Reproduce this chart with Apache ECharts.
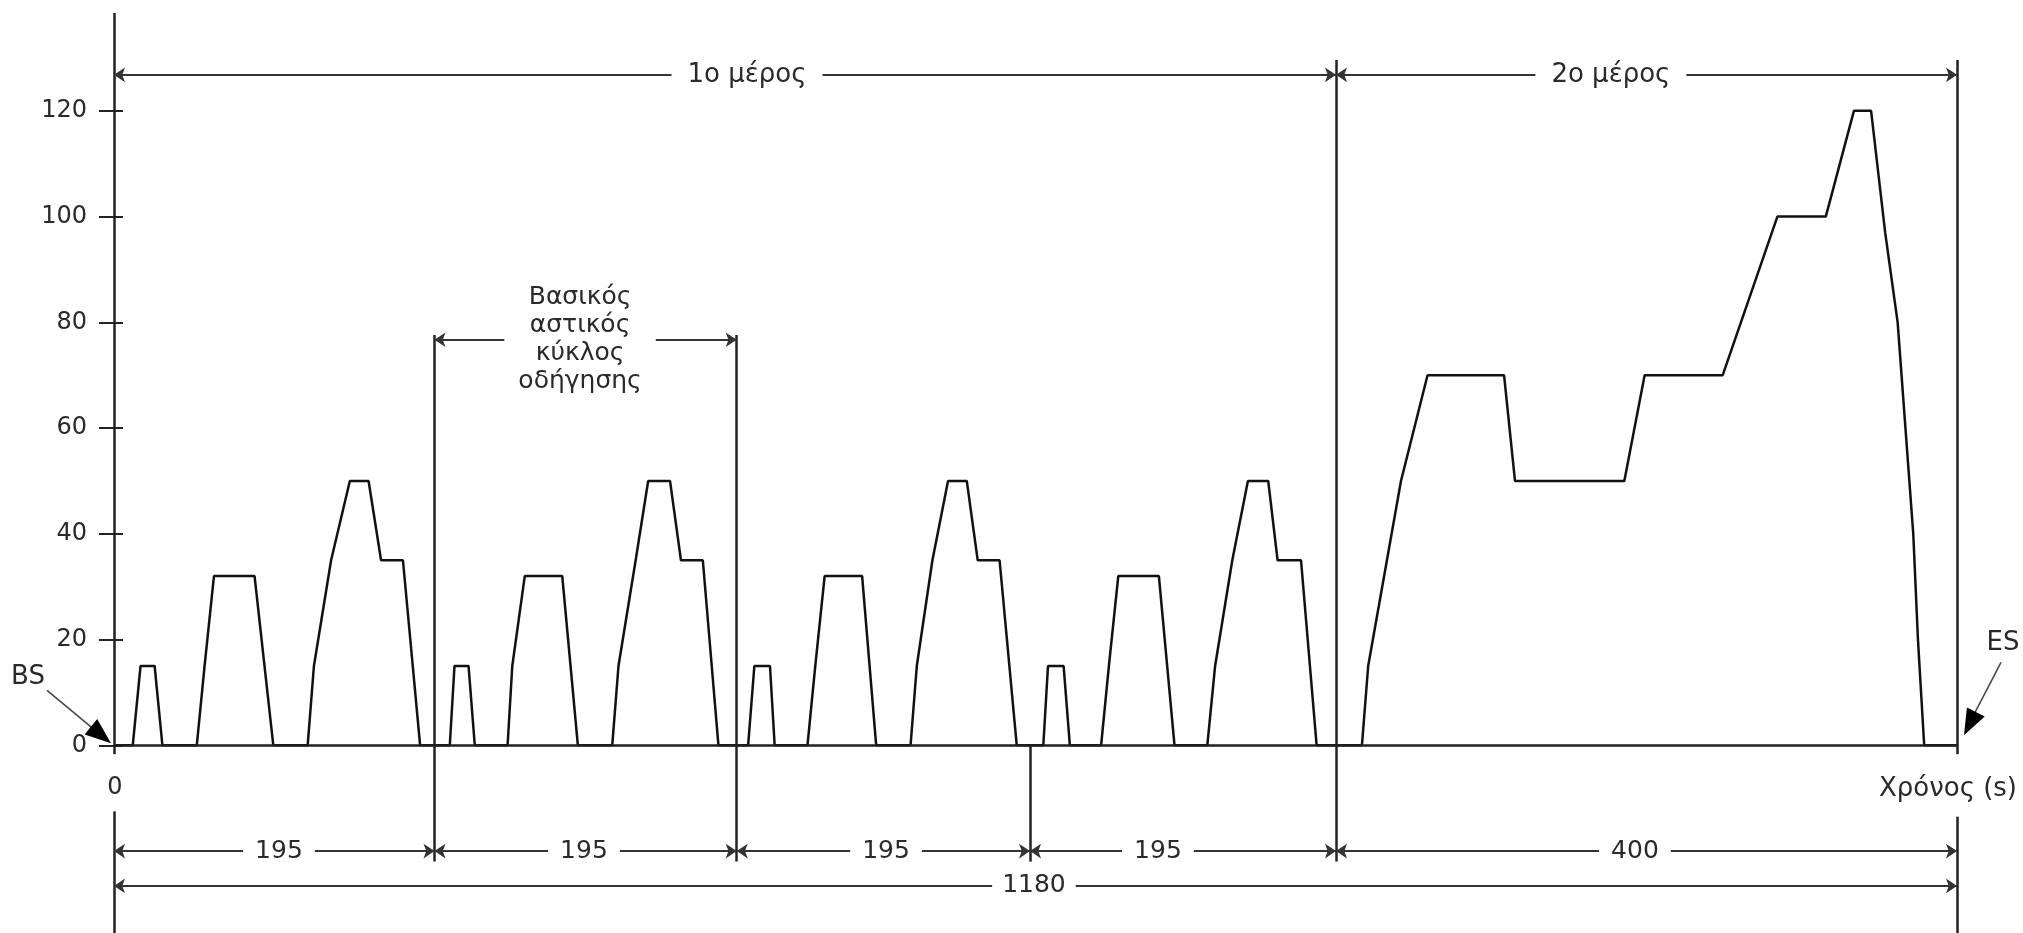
<!DOCTYPE html>
<html>
<head>
<meta charset="utf-8">
<title>Κύκλος οδήγησης</title>
<script src="https://cdn.jsdelivr.net/npm/echarts@6/dist/echarts.min.js"></script>
<style>
html, body { margin: 0; padding: 0; background: #fff; }
#grafico { width: 2023px; height: 933px; }
</style>
</head>
<body>
<div id="grafico"></div>
<script>
// speed (km/h) against time (s)
var times = [0,
    12, 17, 26, 31, 53, 58, 64, 90, 102, 124, 128, 139, 151, 163, 171, 185, 196,
    215, 218, 227, 231, 252, 255, 263, 287, 297, 319, 323, 334, 342, 356, 363, 377, 387,
    406, 410, 420, 423, 444, 449, 455, 479, 488, 510, 514, 524, 534, 546, 553, 567, 578,
    595, 598, 608, 612, 632, 637, 643, 669, 679, 700, 705, 716, 726, 739, 745, 760, 770,
    799, 803, 815, 824, 841, 890, 897, 967, 980, 1030, 1065, 1096, 1114, 1125,
    1134, 1142, 1147, 1152, 1155, 1159, 1180];
var speeds = [0,
    0, 15, 15, 0, 0, 15, 32, 32, 0, 0, 15, 35, 50, 50, 35, 35, 0,
    0, 15, 15, 0, 0, 15, 32, 32, 0, 0, 15, 35, 50, 50, 35, 35, 0,
    0, 15, 15, 0, 0, 15, 32, 32, 0, 0, 15, 35, 50, 50, 35, 35, 0,
    0, 15, 15, 0, 0, 15, 32, 32, 0, 0, 15, 35, 50, 50, 35, 35, 0,
    0, 15, 35, 50, 70, 70, 50, 50, 70, 70, 100, 100, 120, 120,
    97, 80, 60, 40, 20, 0, 0];
var yTicks = [0, 20, 40, 60, 80, 100, 120];
var boundaries = [0, 205.2, 398.7, 586.5, 782.4, 1180];
var segmentLabels = ['195', '195', '195', '195', '400'];
var segmentLabelAt = [105.6, 300.9, 494.3, 668.4, 973.8];
var partLabels = ['1ο μέρος', '2ο μέρος'];
var partLabelAt = [405.3, 958.4];
var cycleLabel = 'Βασικός\nαστικός\nκύκλος\nοδήγησης';
var cycleLabelAt = 298.4;
var totalLabel = '1180';
var totalLabelAt = 589;
var xName = 'Χρόνος (s)';

var font = 'DejaVu Sans';
var ink = '#222';
var textInk = '#2a2a2a';
var yMin = -35.5, yMax = 138.5;
var partY = 126.8, cycleY = 76.7, segY = -20, totalY = -26.6, dropY = -22, topY = 129.6;

var dom = document.getElementById("grafico");
var myChart = echarts.init(dom);

var points = times.map(function (t, i) { return [t, speeds[i]]; });

function seg(x1, y1, x2, y2) {
    return [
        { coord: [x1, y1], symbol: 'none', label: { show: false }, lineStyle: { color: ink, width: 2.5, type: 'solid' } },
        { coord: [x2, y2], symbol: 'none' }
    ];
}

function dim(x1, x2, y) {
    return [
        { coord: [x1, y], label: { show: false }, lineStyle: { color: '#333', width: 2, type: 'solid' } },
        { coord: [x2, y] }
    ];
}

function note(x, y, text, opt) {
    opt = opt || {};
    return {
        coord: [x, y],
        symbol: 'circle',
        symbolSize: 1,
        itemStyle: { color: 'rgba(0,0,0,0)' },
        label: {
            show: true,
            position: 'inside',
            offset: opt.offset || [0, 0],
            formatter: text,
            color: textInk,
            fontFamily: font,
            fontSize: opt.size || 24,
            lineHeight: opt.lh || 28,
            backgroundColor: opt.gap ? '#fff' : 'transparent',
            padding: opt.gap ? [0, opt.gap] : 0
        }
    };
}

var lines = [];
var notes = [];
// time axis
lines.push(seg(boundaries[0], 0, boundaries[5], 0));
// speed axis, broken round the "0" under it
lines.push(seg(0, yMax, 0, -1.7), seg(0, -12.5, 0, yMin));
// cycle boundaries
lines.push(seg(boundaries[1], cycleY + 0.9, boundaries[1], dropY));
lines.push(seg(boundaries[2], cycleY + 0.9, boundaries[2], dropY));
lines.push(seg(boundaries[3], 0, boundaries[3], dropY));
lines.push(seg(boundaries[4], topY, boundaries[4], dropY));
lines.push(seg(boundaries[5], topY, boundaries[5], -1.7), seg(boundaries[5], -13.5, boundaries[5], yMin));

// dimension lines with their texts
lines.push(dim(boundaries[0], boundaries[4], partY));
lines.push(dim(boundaries[4], boundaries[5], partY));
notes.push(note(partLabelAt[0], partY, partLabels[0], { size: 26, gap: 16 }));
notes.push(note(partLabelAt[1], partY, partLabels[1], { size: 26, gap: 16 }));
lines.push(dim(boundaries[1], boundaries[2], cycleY));
notes.push(note(cycleLabelAt, cycleY, cycleLabel, { size: 25, lh: 28, gap: 14 }));
for (var i = 0; i < segmentLabels.length; i++) {
    lines.push(dim(boundaries[i], boundaries[i + 1], segY));
    notes.push(note(segmentLabelAt[i], segY, segmentLabels[i], { size: 25, gap: 12 }));
}
lines.push(dim(boundaries[0], boundaries[5], totalY));
notes.push(note(totalLabelAt, totalY, totalLabel, { size: 25, gap: 10 }));

// axis texts
notes.push(note(boundaries[0], 0, '0', { offset: [1, 42] }));
notes.push(note(boundaries[5], 0, xName, { offset: [-9, 44], size: 26 }));

option = {
    backgroundColor: '#fff',
    animation: false,
    textStyle: { fontFamily: font },
    grid: { left: 114, right: 66, top: 13, bottom: 0, containLabel: false, outerBoundsMode: 'none' },
    xAxis: {
        type: 'value',
        min: 0,
        max: 1180,
        show: false,
        splitLine: { show: false }
    },
    yAxis: [
        {
            type: 'value',
            position: 'left',
            min: yMin,
            max: yMax,
            splitLine: { show: false },
            axisLine: { show: false },
            axisTick: { customValues: yTicks, length: 15, lineStyle: { color: ink, width: 2 } },
            axisLabel: { customValues: yTicks, margin: 27, color: textInk, fontSize: 24, fontFamily: font }
        },
        {
            type: 'value',
            position: 'left',
            offset: 0,
            min: yMin,
            max: yMax,
            splitLine: { show: false },
            axisLine: { show: false },
            axisTick: { inside: true, customValues: yTicks, length: 9, lineStyle: { color: ink, width: 2 } },
            axisLabel: { show: false }
        }
    ],
    series: [
        {
            name: 'Ταχύτητα',
            type: 'line',
            yAxisIndex: 0,
            data: points,
            showSymbol: false,
            clip: false,
            z: 3,
            lineStyle: { color: '#111', width: 2.5 },
            markLine: {
                silent: true,
                animation: false,
                z: 4,
                symbol: ['arrow', 'arrow'],
                symbolSize: 11,
                data: lines
            },
            markPoint: {
                silent: true,
                animation: false,
                z: 8,
                data: notes
            }
        }
    ]
};
if (option && typeof option === "object") {
    myChart.setOption(option, true);
}

// BS / ES pointers, placed from the axis ends
var o = myChart.convertToPixel({ gridIndex: 0 }, [boundaries[0], 0]);
var e = myChart.convertToPixel({ gridIndex: 0 }, [boundaries[5], 0]);
function P(base, dx, dy) { return [base[0] + dx, base[1] + dy]; }
myChart.setOption({
    graphic: [
        { type: 'text', x: o[0] - 86, y: o[1] - 68, style: { text: 'BS', fill: textInk, font: '26px "DejaVu Sans"', align: 'center', verticalAlign: 'middle' } },
        { type: 'line', shape: { x1: o[0] - 67, y1: o[1] - 55, x2: o[0] - 20, y2: o[1] - 16 }, style: { stroke: '#444', lineWidth: 1.5 } },
        { type: 'polygon', shape: { points: [P(o, -3, -2), P(o, -29.4, -10.7), P(o, -16.8, -26.2)] }, style: { fill: '#000' } },
        { type: 'text', x: e[0] + 46, y: e[1] - 102, style: { text: 'ES', fill: textInk, font: '26px "DejaVu Sans"', align: 'center', verticalAlign: 'middle' } },
        { type: 'line', shape: { x1: e[0] + 44, y1: e[1] - 83, x2: e[0] + 17, y2: e[1] - 31 }, style: { stroke: '#444', lineWidth: 1.5 } },
        { type: 'polygon', shape: { points: [P(e, 7, -10), P(e, 27.7, -28.7), P(e, 9.9, -37.7)] }, style: { fill: '#000' } }
    ]
});
</script>
</body>
</html>
